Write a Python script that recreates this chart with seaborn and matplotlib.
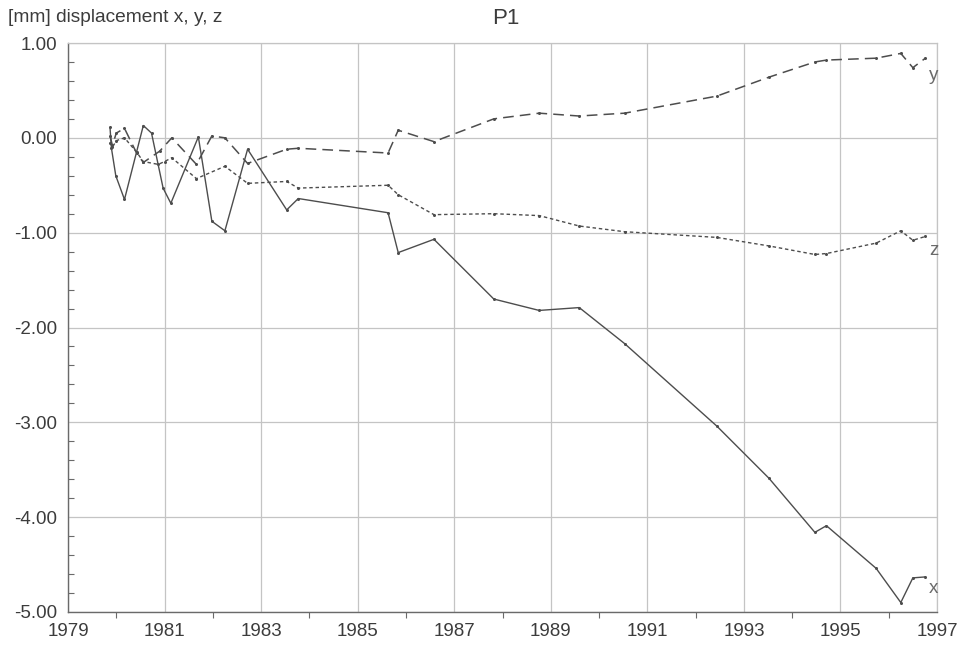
import numpy as np
import pandas as pd
import matplotlib
matplotlib.use("Agg")
import matplotlib.pyplot as plt
from matplotlib.ticker import MultipleLocator, FixedLocator, FormatStrFormatter
import seaborn as sns

# ---- data ----
tx = [1979.87, 1979.90, 1979.99, 1980.17, 1980.56, 1980.73, 1980.97, 1981.13, 1981.70,
      1981.98, 1982.25, 1982.72, 1983.53, 1983.77, 1985.63, 1985.84, 1986.58, 1987.82,
      1988.76, 1989.59, 1990.53, 1992.44, 1993.52, 1994.47, 1994.71, 1995.74, 1996.25,
      1996.50, 1996.76]
vx = [0.11, -0.11, -0.40, -0.65, 0.13, 0.05, -0.53, -0.69, 0.01,
      -0.88, -0.98, -0.12, -0.76, -0.64, -0.79, -1.21, -1.07, -1.70,
      -1.82, -1.79, -2.17, -3.04, -3.59, -4.16, -4.09, -4.54, -4.90,
      -4.64, -4.63]

ty = [1979.87, 1979.92, 1980.00, 1980.17, 1980.42, 1980.56, 1980.90, 1981.15, 1981.66,
      1981.98, 1982.25, 1982.72, 1983.53, 1983.77, 1985.63, 1985.84, 1986.58, 1987.82,
      1988.76, 1989.59, 1990.53, 1992.44, 1993.52, 1994.47, 1994.71, 1995.74, 1996.25,
      1996.50, 1996.76]
vy = [0.02, -0.08, 0.05, 0.10, -0.16, -0.26, -0.14, 0.00, -0.28,
      0.02, 0.00, -0.27, -0.12, -0.11, -0.16, 0.08, -0.04, 0.20,
      0.26, 0.23, 0.26, 0.44, 0.64, 0.80, 0.82, 0.84, 0.89,
      0.74, 0.84]

tz = [1979.87, 1979.92, 1980.00, 1980.17, 1980.42, 1980.56, 1980.87, 1981.00, 1981.15,
      1981.66, 1982.25, 1982.72, 1983.53, 1983.77, 1985.63, 1985.84, 1986.58, 1987.82,
      1988.76, 1989.59, 1990.53, 1992.44, 1993.52, 1994.47, 1994.71, 1995.74, 1996.25,
      1996.50, 1996.76]
vz = [-0.05, -0.10, -0.03, 0.00, -0.15, -0.25, -0.28, -0.25, -0.21,
      -0.43, -0.30, -0.48, -0.46, -0.53, -0.50, -0.60, -0.81, -0.80,
      -0.82, -0.93, -0.99, -1.05, -1.14, -1.23, -1.22, -1.11, -0.98,
      -1.08, -1.04]

series_names = ["x", "y", "z"]
label_values = [-4.75, 0.66, -1.19]

x_ticks = [1979, 1981, 1983, 1985, 1987, 1989, 1991, 1993, 1995, 1997]
y_ticks = [-5.0, -4.0, -3.0, -2.0, -1.0, 0.0, 1.0]

title = "P1"
ylabel_text = "[mm] displacement x, y, z"

# ---- plotting ----
sns.set_theme(style="white")
plt.rcParams["font.family"] = ["Liberation Sans", "DejaVu Sans"]
plt.rcParams["axes.unicode_minus"] = False

fig = plt.figure(figsize=(9.6, 6.49), dpi=100)
ax = fig.add_axes([68 / 960, 1 - 612 / 649, (937 - 68) / 960, (612 - 43) / 649])

line_col = "#4d4d4d"
text_col = "#3c3c3c"

dfx = pd.DataFrame({"t": tx, "v": vx})
dfy = pd.DataFrame({"t": ty, "v": vy})
dfz = pd.DataFrame({"t": tz, "v": vz})

sns.lineplot(data=dfx, x="t", y="v", ax=ax, color=line_col, linewidth=1.0,
             marker="o", markersize=2.2, markeredgewidth=0, sort=False,
             linestyle="-")
sns.lineplot(data=dfy, x="t", y="v", ax=ax, color=line_col, linewidth=1.1,
             marker="o", markersize=2.2, markeredgewidth=0, sort=False,
             linestyle=(0, (7, 4)))
sns.lineplot(data=dfz, x="t", y="v", ax=ax, color=line_col, linewidth=1.0,
             marker="o", markersize=2.2, markeredgewidth=0, sort=False,
             linestyle=(0, (2.5, 2)))

for name, val in zip(series_names, label_values):
    ax.text(1996.84, val, name, fontsize=13.5, color="#6a6a6a", ha="left",
            va="center")

ax.set_xlim(1979, 1997)
ax.set_ylim(-5, 1)
ax.xaxis.set_major_locator(FixedLocator(x_ticks))
ax.xaxis.set_minor_locator(MultipleLocator(1))
ax.yaxis.set_major_locator(FixedLocator(y_ticks))
ax.yaxis.set_minor_locator(MultipleLocator(0.2))
ax.yaxis.set_major_formatter(FormatStrFormatter("%.2f"))
ax.xaxis.set_major_formatter(FormatStrFormatter("%d"))

ax.grid(True, which="major", color="#c4c4c4", linewidth=0.9)
ax.set_axisbelow(True)

for s in ["top", "right"]:
    ax.spines[s].set_color("#c4c4c4")
    ax.spines[s].set_linewidth(0.9)
for s in ["left", "bottom"]:
    ax.spines[s].set_color("#6a6a6a")
    ax.spines[s].set_linewidth(1.0)

ax.tick_params(axis="both", which="major", direction="out", length=6, width=1,
               color="#6a6a6a", labelsize=13.5, labelcolor=text_col, pad=2)
ax.tick_params(axis="y", which="minor", direction="in", length=4, width=0.8,
               color="#6a6a6a", left=True)
ax.tick_params(axis="x", which="minor", direction="out", length=4, width=0.8,
               color="#6a6a6a", bottom=True)

ax.set_xlabel("")
ax.set_ylabel("")

fig.text(8 / 960, 1 - 17 / 649, ylabel_text, fontsize=13.8, color=text_col,
         ha="left", va="center")
fig.text(506 / 960, 1 - 18 / 649, title, fontsize=16, color=text_col,
         ha="center", va="center")

fig.savefig("out.png", dpi=100)
